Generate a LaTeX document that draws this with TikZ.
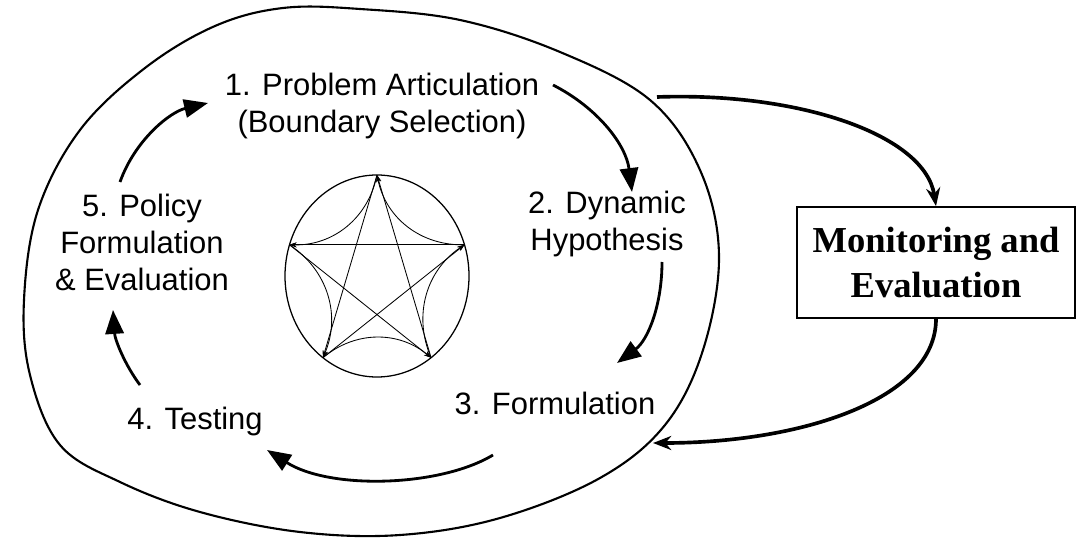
\documentclass[tikz,border=0pt]{standalone}
\usepackage{fontspec}
\setmainfont{Liberation Sans}
\newfontfamily\monfont{Liberation Serif}
\usetikzlibrary{arrows.meta}

\begin{document}
\begin{tikzpicture}[x = 0.025cm, y = -0.025cm,
  stage/.style = {align = center, inner sep = 0pt, font = \fontsize{22}{26.3}\selectfont},
  turn/.style = {line width = 2pt, -{Triangle[length = 17pt, width = 13pt]}},
  feed/.style = {line width = 2.6pt, -{Stealth[length = 13pt, width = 10pt]}},
  link/.style = {line width = 0.6pt, -{Stealth[length = 5pt, width = 3.5pt]}}]
\useasboundingbox (0,0) rectangle (1084,543);
\draw [line width = 1.5pt] plot [smooth cycle, tension = 0.6] coordinates {(283,8) (360,9) (460,20) (560,52) (650,100) (700,170) (719,255) (703,350) (665,425) (600,478) (500,518) (400,535) (300,532) (200,512) (120,482) (60,445) (30,375) (24,300) (38,210) (80,130) (145,68) (215,26)};
\node [stage] (p1) at (382,106) {1. Problem Articulation\\(Boundary Selection)};
\node [stage] (p2) at (607,224) {2. Dynamic\\Hypothesis};
\node [stage] (p3) at (555,403) {3. Formulation};
\node [stage] (p4) at (195,422) {4. Testing};
\node [stage] (p5) at (142,242) {5. Policy\\Formulation\\\& Evaluation};
\node [draw, line width = 1.2pt, minimum width = 6.95cm, minimum height = 2.775cm, align = center,
  font = \monfont\bfseries\fontsize{26}{32}\selectfont] (mon) at (936,262.5) {Monitoring and\\Evaluation};
\coordinate (a1) at (553,85); \coordinate (b1) at (632,192);
\coordinate (a2) at (662,262); \coordinate (b2) at (617,363);
\coordinate (a3) at (493,455); \coordinate (b3) at (267,450);
\coordinate (a4) at (140,385); \coordinate (b4) at (113,310);
\coordinate (a5) at (120,182); \coordinate (b5) at (208,103);
\draw [turn] (a1) .. controls (598,108) and (626,145) .. (b1);
\draw [turn] (a2) .. controls (662,305) and (648,340) .. (b2);
\draw [turn] (a3) .. controls (440,487) and (330,490) .. (b3);
\draw [turn] (a4) .. controls (125,365) and (115,340) .. (b4);
\draw [turn] (a5) .. controls (135,140) and (170,112) .. (b5);
\coordinate (out) at (657,97); \coordinate (back) at (653,443);
\draw [feed] (out) .. controls (800,92) and (925,135) .. (mon.north);
\draw [feed] (mon.south) .. controls (936,400) and (800,443) .. (back);
\draw [line width = 0.9pt] (377,276) ellipse [x radius = 92, y radius = 101];
\foreach \k in {0,...,4}
  \coordinate (v\k) at ({377+92*cos(90+72*\k)},{276-101*sin(90+72*\k)});
\foreach \k/\n in {0/2,2/4,4/1,1/3,3/0}
  \draw [link] (v\k) -- (v\n);
\foreach \k/\n in {0/1,1/2,2/3,3/4,4/0}
  \draw [link] (v\k) to [bend left = 40] (v\n);
\end{tikzpicture}
\end{document}
